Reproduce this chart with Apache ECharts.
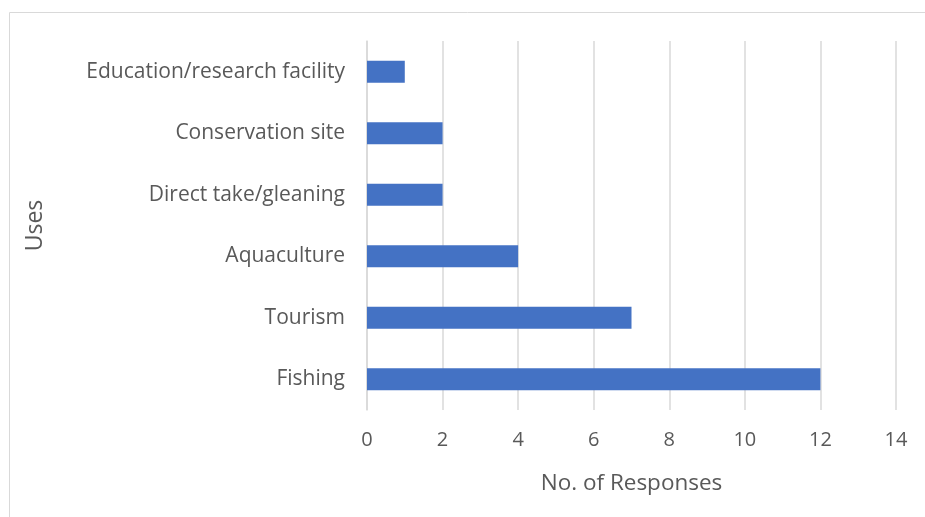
<!DOCTYPE html>
<html><head><meta charset="utf-8">
<script src="https://cdn.jsdelivr.net/npm/echarts@6/dist/echarts.min.js"></script>
<style>html,body{margin:0;padding:0;background:#fff}#c{width:925px;height:517px}</style>
</head><body><div id="c"></div>
<script>
const categories = ['Fishing','Tourism','Aquaculture','Direct take/gleaning','Conservation site','Education/research facility'];
const responses = [12, 7, 4, 2, 2, 1];
const xTicks = [0, 2, 4, 6, 8, 10, 12, 14];

const chart = echarts.init(document.getElementById('c'));
const font = 'Open Sans';
chart.setOption({
  animation: false,
  graphic: [{type:'rect', shape:{x:9.5,y:12.5,width:920,height:510}, style:{fill:'none',stroke:'#d9d9d9',lineWidth:1}, silent:true}],
  grid: {left: 367, right: 29, top: 41, bottom: 107},
  xAxis: {
    type: 'value', min: xTicks[0], max: xTicks[xTicks.length-1], interval: 2,
    name: 'No. of Responses', nameLocation: 'middle', nameGap: 62,
    nameTextStyle: {color:'#595959', fontSize: 22.5, fontFamily: font},
    axisLine: {show:false}, axisTick: {show:false},
    axisLabel: {color:'#595959', fontSize: 20, fontFamily: font, margin: 20},
    splitLine: {lineStyle: {color:'#d9d9d9', width: 1.5}}
  },
  yAxis: {
    type: 'category', data: categories,
    name: 'Uses', nameLocation: 'middle', nameGap: 320, nameRotate: 90,
    nameTextStyle: {color:'#595959', fontSize: 23, fontFamily: font},
    axisLine: {show:true, lineStyle:{color:'#d9d9d9', width:1.5}}, axisTick: {show:false},
    axisLabel: {color:'#595959', fontSize: 21, fontFamily: font, margin: 22},
    splitLine: {show:false}
  },
  series: [{type:'bar', data: responses, barWidth: 22, itemStyle:{color:'#4472c4'}}]
});
</script></body></html>
